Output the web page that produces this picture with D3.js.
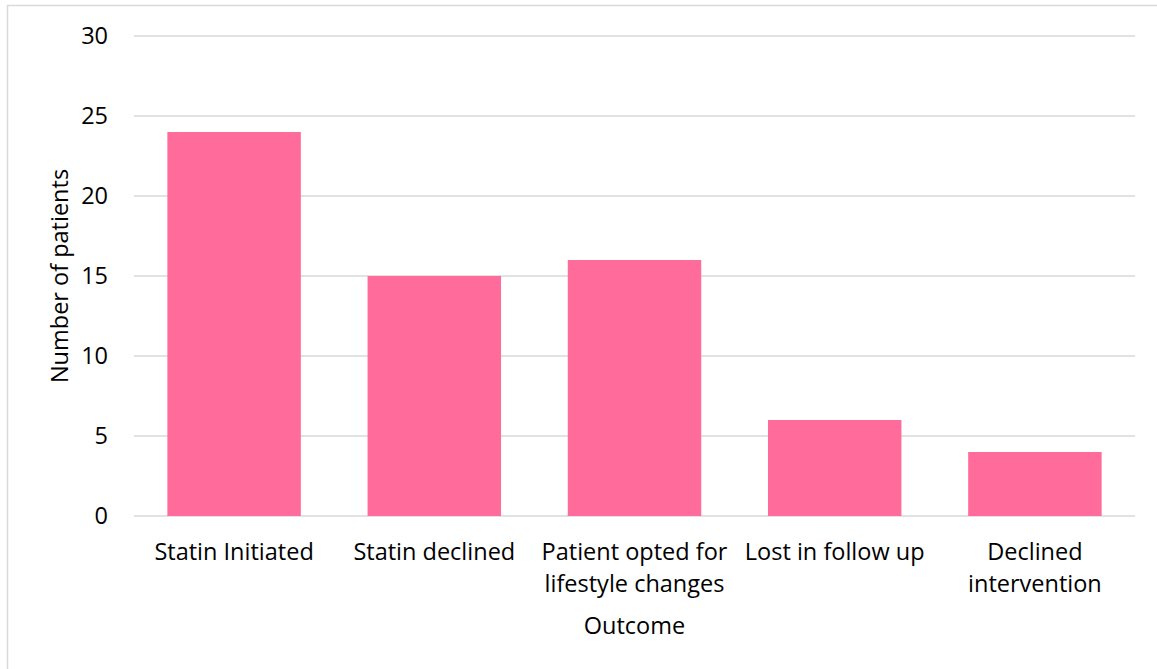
<!DOCTYPE html>
<html><head><meta charset="utf-8">
<script src="https://cdn.jsdelivr.net/npm/d3@7"></script>
<style>html,body{margin:0;padding:0;background:#fff;}svg{display:block;font-family:"Open Sans",sans-serif;}</style>
</head><body><svg id="c" width="1157" height="669"></svg>
<script>
const categories = [["Statin Initiated"],["Statin declined"],["Patient opted for","lifestyle changes"],["Lost in follow up"],["Declined","intervention"]];
const values = [24,15,16,6,4];
const yTicks = [0,5,10,15,20,25,30];
const yTitle = "Number of patients";
const xTitle = "Outcome";

(function(){
const FS = 23.5;
const svg = d3.select("#c");
svg.append("rect").attr("x",7.5).attr("y",5.5).attr("width",1160).attr("height",670).attr("fill","#fff").attr("stroke","#d9d9d9").attr("stroke-width",1.5);

const L=134, R=1135, T=36, B=516;
const x = d3.scaleBand().domain(d3.range(categories.length)).range([L,R]).paddingInner(1/3).paddingOuter(1/6);
const y = d3.scaleLinear().domain([0,30]).range([B,T]);

const grid = svg.append("g");
grid.selectAll("line").data(yTicks).join("line")
  .attr("x1",L).attr("x2",R).attr("y1",d=>y(d)).attr("y2",d=>y(d))
  .attr("stroke","#d9d9d9").attr("stroke-width",1.3);

const yAxis = svg.append("g").attr("transform",`translate(${L},0)`)
  .call(d3.axisLeft(y).tickValues(yTicks).tickSize(0).tickPadding(26));
yAxis.select(".domain").remove();
yAxis.selectAll("text").attr("font-size",FS).attr("fill","#000").attr("font-family","Open Sans, sans-serif");

svg.append("g").selectAll("rect").data(values).join("rect")
  .attr("x",(d,i)=>x(i)).attr("width",x.bandwidth())
  .attr("y",d=>y(d)).attr("height",d=>y(0)-y(d)).attr("fill","#ff6b9a");

const xl = svg.append("g");
categories.forEach((lines,i)=>{
  const t = xl.append("text").attr("text-anchor","middle").attr("font-size",FS).attr("fill","#000");
  lines.forEach((l,j)=>t.append("tspan").attr("x",x(i)+x.bandwidth()/2).attr("y",560+j*32).text(l));
});

svg.append("text").attr("x",(L+R)/2).attr("y",634).attr("text-anchor","middle").attr("font-size",FS).attr("fill","#000").text(xTitle);
svg.append("text").attr("transform",`translate(68,${(T+B)/2}) rotate(-90)`).attr("text-anchor","middle").attr("font-size",FS).attr("fill","#000").text(yTitle);
})();
</script></body></html>
